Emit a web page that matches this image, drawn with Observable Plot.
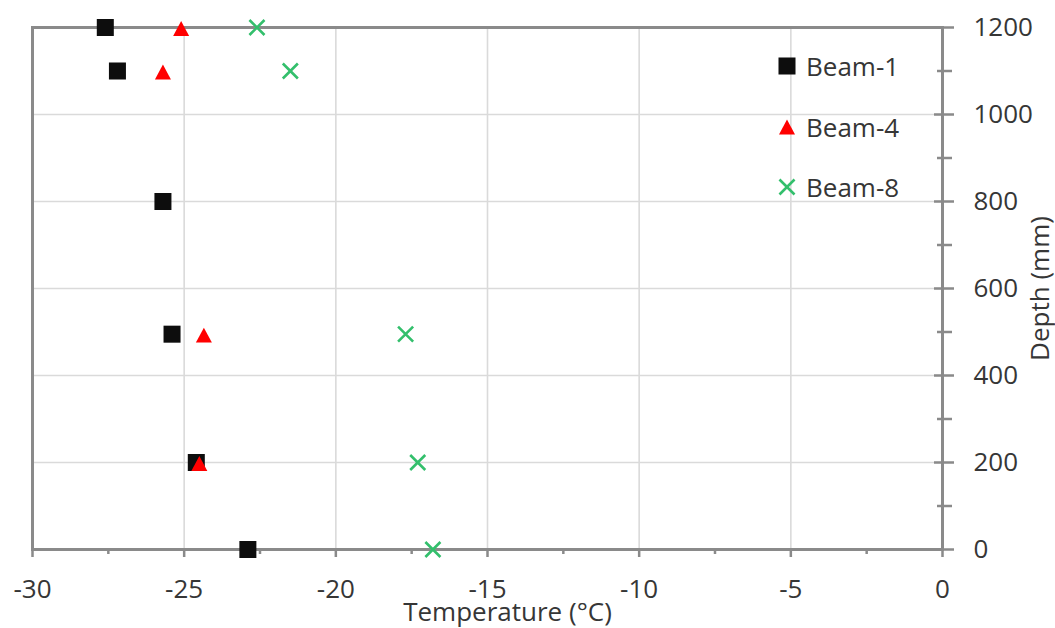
<!DOCTYPE html>
<html>
<head>
<meta charset="utf-8">
<script src="https://cdn.jsdelivr.net/npm/d3@7"></script>
<script src="https://cdn.jsdelivr.net/npm/@observablehq/plot@0.6"></script>
<style>
  body { margin: 0; background: #fff; }
  #chart { position: relative; width: 1055px; height: 628px; }
  .legend { position: absolute; left: 776px; top: 51px; font-family: "Open Sans", Lato, sans-serif; font-size: 26px; color: #363636; }
  .legend .row { display: flex; align-items: center; height: 30px; margin-bottom: 30.5px; }
  .legend svg { width: 22px; height: 22px; margin-right: 8px; overflow: visible; }
</style>
</head>
<body>
<div id="chart"></div>
<script>
// Depth (mm) and temperature (°C) readings for each beam
const depthBeam1 = [1200, 1100, 800, 495, 200, 0];
const tempBeam1  = [-27.6, -27.2, -25.7, -25.4, -24.6, -22.9];

const depthBeam4 = [1200, 1100, 495, 200];
const tempBeam4  = [-25.1, -25.7, -24.35, -24.5];

const depthBeam8 = [1200, 1100, 495, 200, 0];
const tempBeam8  = [-22.6, -21.5, -17.7, -17.3, -16.8];

const seriesNames = ["Beam-1", "Beam-4", "Beam-8"];

// Axis ticks
const xMajor = [-30, -25, -20, -15, -10, -5, 0];
const xMinor = [-27.5, -22.5, -17.5, -12.5, -7.5, -2.5];
const xGrid  = [-25, -20, -15, -10, -5];
const yMajor = [0, 200, 400, 600, 800, 1000, 1200];
const yMinor = [100, 300, 500, 700, 900, 1100];
const yGrid  = [200, 400, 600, 800, 1000];

const xTitle = "Temperature (°C)";
const yTitle = "Depth (mm)";

const axisGray = "#8a8a8a";
const gridGray = "#dadada";
const textColor = "#363636";
const fontFamily = "'Open Sans', Lato, sans-serif";
const plain = d => String(d);

// Triangle marker centred on its bounding box, about as tall as it is wide
const triangleUp = {
  draw(context, size) {
    const a = Math.sqrt(size / Math.PI);
    context.moveTo(0, -0.93 * a);
    context.lineTo(a, 0.93 * a);
    context.lineTo(-a, 0.93 * a);
    context.closePath();
  }
};

const toRows = (depths, temps) => depths.map((d, i) => ({depth: d, temp: temps[i]}));

const styles = [
  {symbol: d3.symbolSquare, r: 9.6, fill: "#0d0d0d", stroke: "none", strokeWidth: 0, dy: 0},
  {symbol: triangleUp,      r: 8.0, fill: "#ff0000", stroke: "none", strokeWidth: 0, dy: 1},
  {symbol: d3.symbolTimes,  r: 6.9, fill: "none",    stroke: "#33bf6c", strokeWidth: 2.6, dy: 0}
];
const rows = [toRows(depthBeam1, tempBeam1), toRows(depthBeam4, tempBeam4), toRows(depthBeam8, tempBeam8)];

const chart = Plot.plot({
  width: 1055,
  height: 628,
  marginLeft: 32,
  marginRight: 113,
  marginTop: 27,
  marginBottom: 79,
  style: {fontFamily, fontSize: "26px", color: textColor, background: "#fff"},
  x: {domain: [-30, 0]},
  y: {domain: [0, 1200]},
  marks: [
    Plot.gridX(xGrid, {stroke: gridGray, strokeOpacity: 1, strokeWidth: 1.6}),
    Plot.gridY(yGrid, {stroke: gridGray, strokeOpacity: 1, strokeWidth: 1.6}),
    // bottom axis: minor ticks, then major ticks with labels
    Plot.axisX(xMinor, {tickSize: 5, stroke: axisGray, strokeWidth: 2.5, tickFormat: () => "", label: null}),
    Plot.axisX(xMajor, {
      tickSize: 8, tickPadding: 22, stroke: axisGray, strokeWidth: 2.5,
      fill: textColor, fontSize: 26, tickFormat: plain, label: null
    }),
    Plot.text([xTitle], {
      frameAnchor: "bottom", lineAnchor: "bottom", dx: 20, dy: 71,
      fill: textColor, fontSize: 26
    }),
    // right axis: ticks cross the axis line
    Plot.axisY(yMinor, {anchor: "right", tickSize: 15, dx: -6, stroke: axisGray, strokeWidth: 2.5, tickFormat: () => "", label: null}),
    Plot.axisY(yMajor, {anchor: "right", tickSize: 20, dx: -9, stroke: axisGray, strokeWidth: 2.5, tickFormat: () => "", label: null}),
    Plot.axisY(yMajor, {
      anchor: "right", tickSize: 0, tickPadding: 31, fill: textColor, fontSize: 26, tickFormat: plain,
      label: yTitle, labelAnchor: "center", labelArrow: "none", labelOffset: 106
    }),
    Plot.frame({stroke: axisGray, strokeWidth: 3}),
    ...rows.map((data, i) => Plot.dot(data, {
      x: "temp", y: "depth",
      symbol: styles[i].symbol, r: styles[i].r, dy: styles[i].dy,
      fill: styles[i].fill, stroke: styles[i].stroke, strokeWidth: styles[i].strokeWidth
    }))
  ]
});

const host = document.getElementById("chart");
host.appendChild(chart);

// Legend, built from the same names and symbol styles as the dots
const legend = document.createElement("div");
legend.className = "legend";
seriesNames.forEach((name, i) => {
  const s = styles[i];
  const row = document.createElement("div");
  row.className = "row";
  const svg = d3.create("svg").attr("viewBox", "-11 -11 22 22");
  svg.append("path")
    .attr("d", d3.symbol(s.symbol, Math.PI * s.r * s.r)())
    .attr("fill", s.fill)
    .attr("stroke", s.stroke)
    .attr("stroke-width", s.strokeWidth);
  row.appendChild(svg.node());
  const label = document.createElement("span");
  label.textContent = name;
  row.appendChild(label);
  legend.appendChild(row);
});
host.appendChild(legend);
</script>
</body>
</html>
